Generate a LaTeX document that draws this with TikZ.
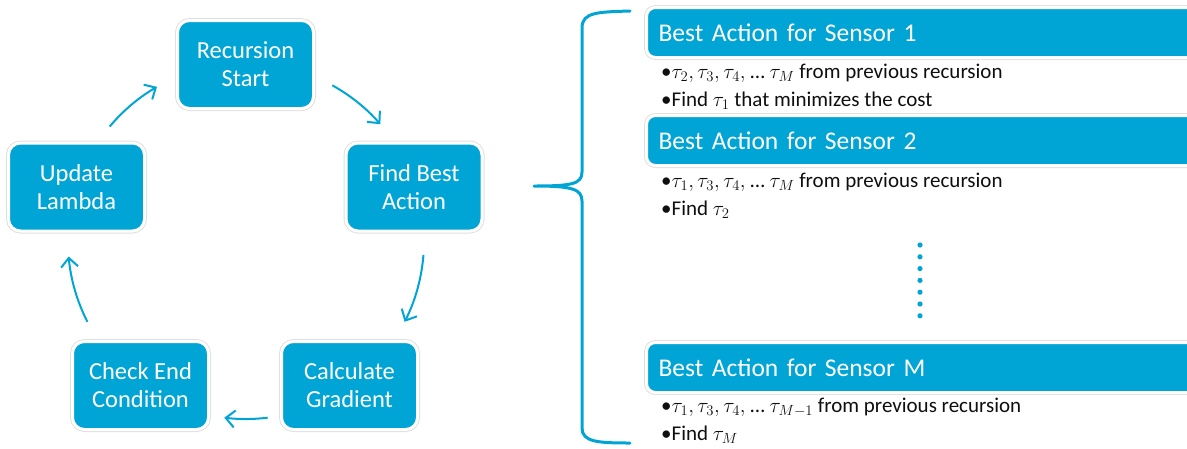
\RequirePackage{fix-cm}
\documentclass[tikz,border=0pt]{standalone}
\usepackage{fontspec}
\setmainfont{Carlito}
\usetikzlibrary{arrows.meta}
\definecolor{sablue}{RGB}{0,165,214}
\definecolor{txtdark}{RGB}{15,15,15}
\begin{document}
\begin{tikzpicture}[x=1pt,y=1pt,
  cyclebox/.style={rectangle, rounded corners=12pt, fill=sablue, draw=white, line width=3pt,
    preaction={draw=black!12, line width=5pt}, minimum width=136pt, minimum height=88pt,
    text=white, align=center, font=\fontsize{24.5}{28}\selectfont, inner sep=0pt},
  headbar/.style={rectangle, rounded corners=9pt, fill=sablue, draw=white, line width=3pt,
    preaction={draw=black!12, line width=5pt}, minimum height=50pt, text width=540pt,
    inner xsep=12pt, inner ysep=0pt, align=left, text=white, anchor=west,
    font=\fontsize{25.5}{30}\selectfont},
  bullet/.style={anchor=base west, inner sep=0pt, text=txtdark, font=\fontsize{21}{25}\selectfont},
  arr/.style={draw=sablue, line width=2pt, -{Straight Barb[length=9pt,width=17pt]}},
  brace/.style={draw=sablue, line width=3pt, line cap=round, line join=round}
]
\useasboundingbox (0,0) rectangle (1187,-448);
\clip (0,0) rectangle (1187,-448);

% cycle
\node[cyclebox] (rs) at (245.5,-64.5) {Recursion\\Start};
\node[cyclebox] (fb) at (414,-187) {Find Best\\Action};
\node[cyclebox] (ul) at (76.5,-187) {Update\\Lambda};
\node[cyclebox] (ce) at (140.5,-385.5) {Check End\\Condition};
\node[cyclebox] (cg) at (349.5,-385.5) {Calculate\\Gradient};

\coordinate (cc) at (246,-241);
\draw[arr] ([shift={(140:178)}]cc) arc[start angle=140, end angle=120, radius=178];
\draw[arr] ([shift={(61:178)}]cc) arc[start angle=61, end angle=41, radius=178];
\draw[arr] ([shift={(-4.5:178)}]cc) arc[start angle=-4.5, end angle=-27, radius=178];
\draw[arr] ([shift={(-83:178)}]cc) arc[start angle=-83, end angle=-97, radius=178];
\draw[arr] ([shift={(207:178)}]cc) arc[start angle=207, end angle=185, radius=178];

% brace
\draw[brace] (630,-11) .. controls (598,-12) and (582,-12) .. (582,-28)
  -- (582,-172) .. controls (582,-184) and (572,-186) .. (534,-186)
  .. controls (572,-186) and (582,-189) .. (582,-201)
  -- (582,-428) .. controls (582,-442) and (598,-443) .. (630,-443);

% right side
\node[headbar] (h1) at (645,-32.5) {Best Action for Sensor 1};
\node[bullet] (b1a) at (661,-78) {•$\tau_2, \tau_3, \tau_4,$ … $\tau_M$ from previous recursion};
\node[bullet] (b1b) at (661,-106) {•Find $\tau_1$ that minimizes the cost};

\node[headbar] (h2) at (645,-140.5) {Best Action for Sensor 2};
\node[bullet] (b2a) at (661,-187) {•$\tau_1, \tau_3, \tau_4,$ … $\tau_M$ from previous recursion};
\node[bullet] (b2b) at (661,-215) {•Find $\tau_2$};

\foreach \i in {0,...,6} \fill[sablue] (920,-245-11.8*\i) circle (2.6);

\node[headbar] (hm) at (645,-367.5) {Best Action for Sensor M};
\node[bullet] (bma) at (661,-412) {•$\tau_1, \tau_3, \tau_4,$ … $\tau_{M-1}$ from previous recursion};
\node[bullet] (bmb) at (661,-440) {•Find $\tau_M$};
\end{tikzpicture}
\end{document}
